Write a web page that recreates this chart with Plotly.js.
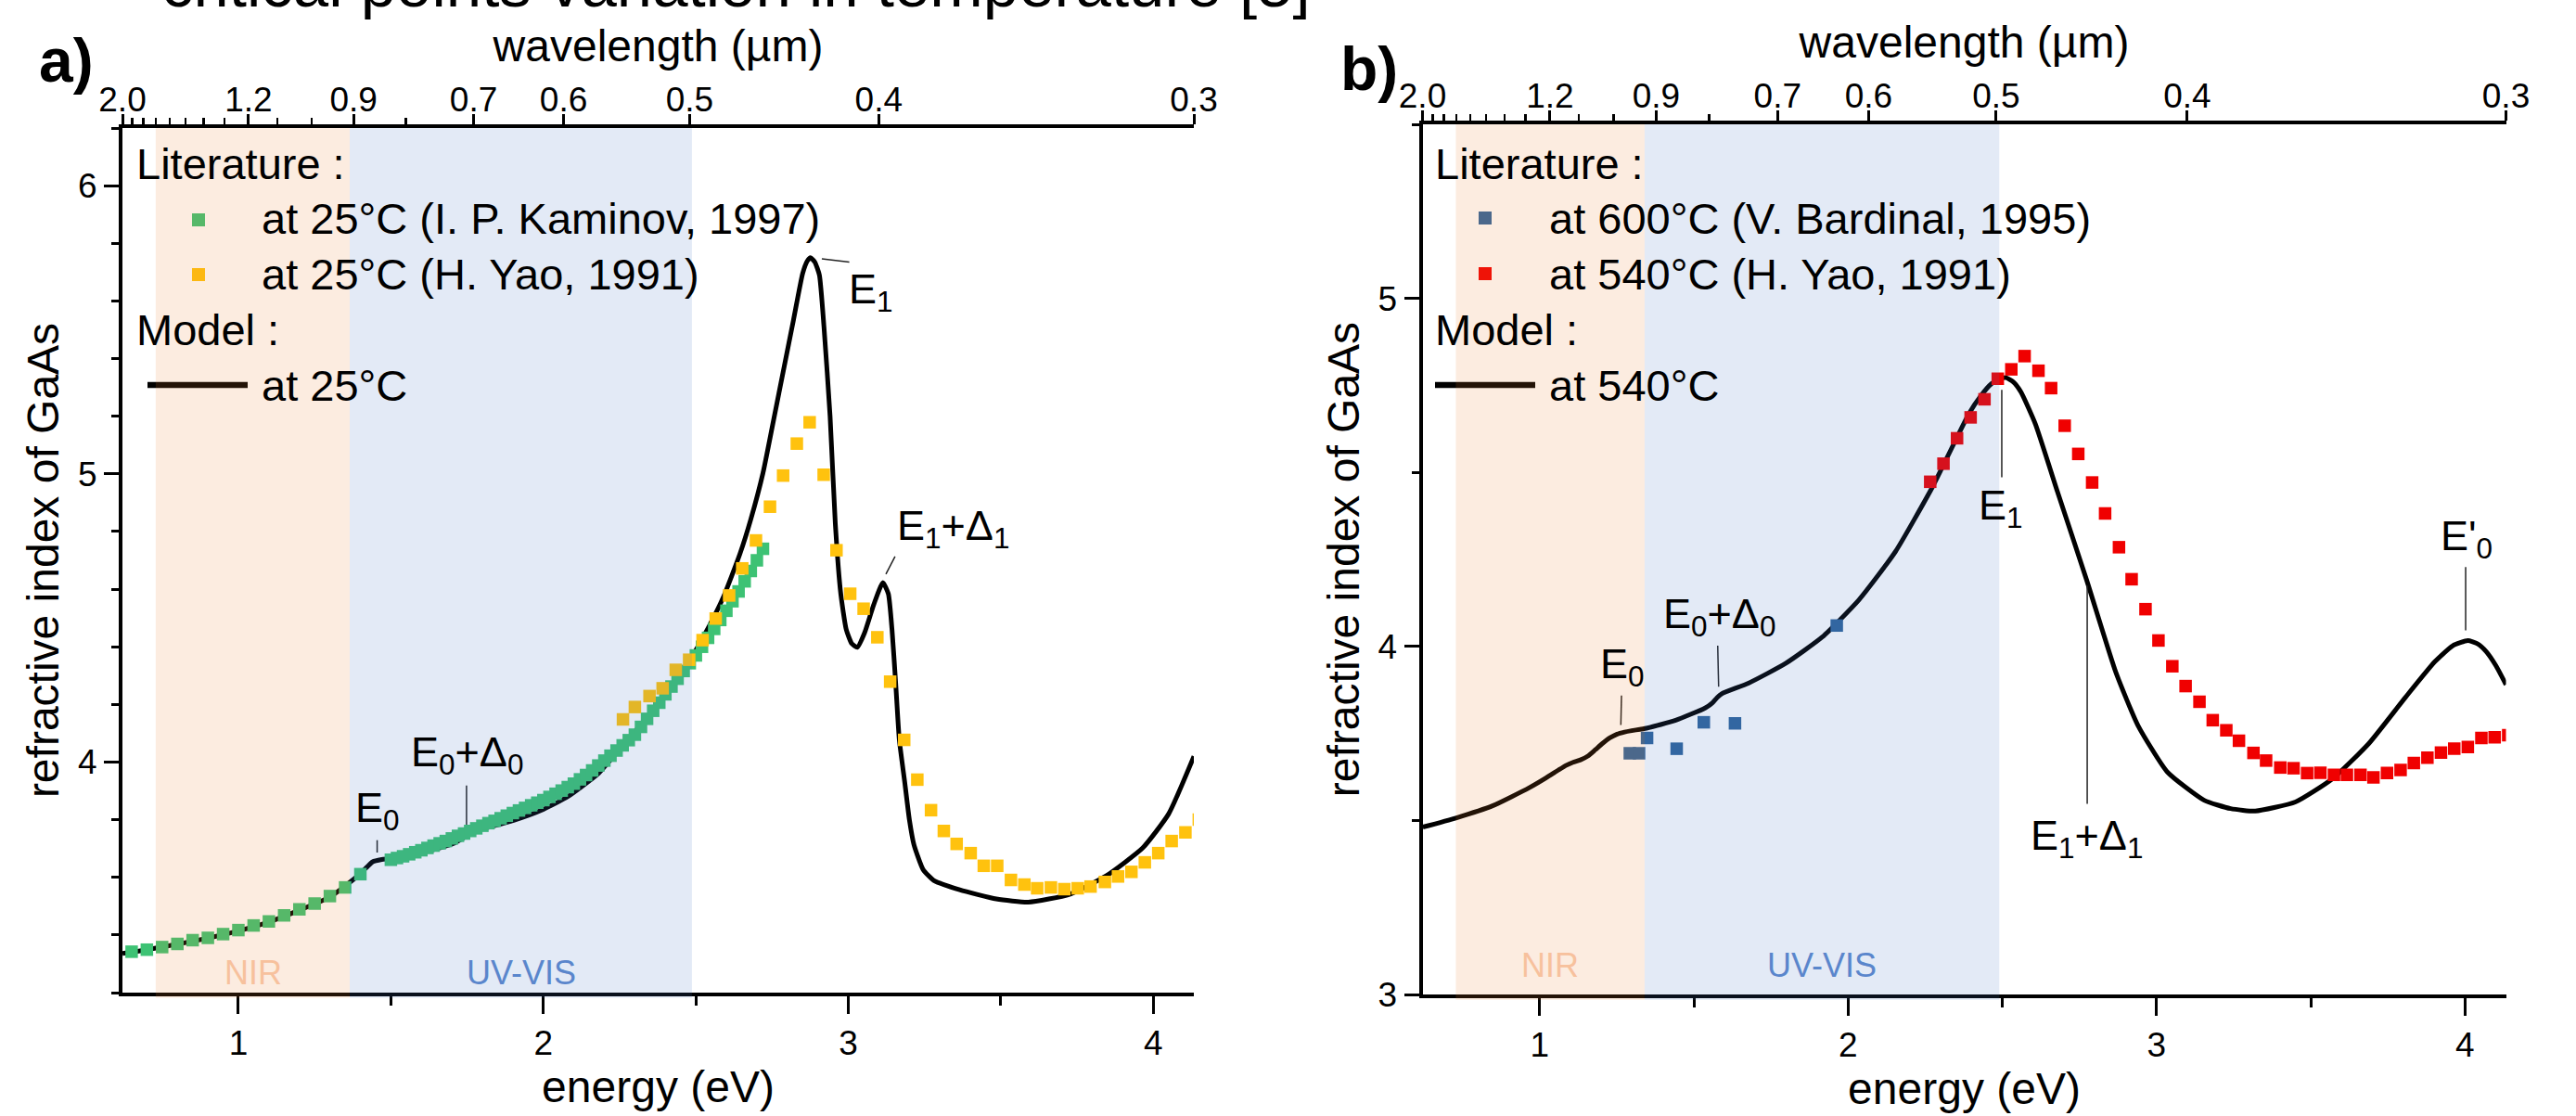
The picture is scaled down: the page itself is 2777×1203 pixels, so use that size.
<!DOCTYPE html>
<html>
<head>
<meta charset="utf-8">
<script src="https://cdn.plot.ly/plotly-3.0.1.min.js"></script>
<style>html,body{margin:0;padding:0;background:#fff;}#chart{width:2777px;height:1203px;}</style>
</head>
<body>
<div id="chart"></div>
<script>
// ---------------- data ----------------
// panel a) 25 °C
const kaminovE = [0.65,0.70,0.75,0.80,0.85,0.90,0.95,1.00,1.05,1.10,1.15,1.20,1.25,1.30,1.35,1.40,
  1.50,1.52,1.54,1.56,1.58,1.60,1.62,1.64,1.66,1.68,1.70,1.72,1.74,1.76,1.78,1.80,1.82,1.84,1.86,1.88,
  1.90,1.92,1.94,1.96,1.98,2.00,2.02,2.04,2.06,2.08,2.10,2.12,2.14,2.16,2.18,2.20,2.22,2.24,2.26,2.28,
  2.30,2.32,2.34,2.36,2.38,2.40,2.42,2.44,2.46,2.48,2.50,2.52,2.54,2.56,2.58,2.60,2.62,2.64,2.66,2.68,2.70,2.72];
const kaminovN = [3.342,3.349,3.358,3.369,3.382,3.390,3.403,3.417,3.433,3.447,3.468,3.489,3.509,3.535,3.565,3.611,
  3.661,3.667,3.673,3.680,3.687,3.694,3.702,3.710,3.718,3.726,3.735,3.744,3.752,3.761,3.770,3.779,3.788,3.796,3.805,3.814,
  3.823,3.832,3.841,3.850,3.859,3.868,3.879,3.890,3.901,3.913,3.925,3.940,3.955,3.971,3.988,4.005,4.022,4.040,4.058,4.076,
  4.095,4.122,4.150,4.178,4.206,4.235,4.262,4.289,4.316,4.343,4.370,4.400,4.431,4.462,4.493,4.525,4.558,4.592,4.627,4.663,4.700,4.740];

const yao25E = [2.261,2.300,2.348,2.391,2.434,2.478,2.522,2.565,2.609,2.652,2.697,2.743,2.786,2.831,2.873,2.919,2.961,
  3.006,3.050,3.095,3.137,3.183,3.226,3.271,3.313,3.355,3.401,3.444,3.488,3.533,3.577,3.619,3.664,3.708,3.752,3.794,
  3.841,3.884,3.928,3.972,4.016,4.060,4.105,4.149];
const yao25N = [4.148,4.191,4.229,4.256,4.320,4.355,4.423,4.498,4.578,4.672,4.769,4.886,4.994,5.105,5.179,4.997,4.735,
  4.584,4.532,4.433,4.279,4.077,3.939,3.833,3.761,3.716,3.684,3.640,3.640,3.591,3.575,3.562,3.565,3.559,3.562,3.568,
  3.584,3.603,3.619,3.652,3.684,3.726,3.756,3.800];

const model25E = [0.62,0.70,0.80,0.90,1.00,1.10,1.20,1.30,1.38,1.42,1.44,1.47,1.50,1.60,1.70,1.74,1.765,1.80,1.90,2.00,
  2.08,2.18,2.25,2.32,2.41,2.47,2.53,2.59,2.645,2.68,2.72,2.755,2.79,2.82,2.85,2.865,2.876,2.89,2.905,2.92,2.94,2.957,
  2.975,2.993,3.011,3.029,3.053,3.083,3.113,3.131,3.143,3.155,3.167,3.185,3.20,3.215,3.245,3.28,3.365,3.485,3.59,
  3.725,3.845,3.965,4.05,4.133];
const model25N = [3.336,3.349,3.368,3.389,3.414,3.445,3.486,3.532,3.595,3.634,3.654,3.662,3.665,3.685,3.715,3.738,3.756,3.768,3.797,3.836,
  3.880,3.960,4.045,4.130,4.245,4.336,4.445,4.572,4.724,4.842,5.003,5.188,5.374,5.534,5.695,5.738,5.750,5.735,5.690,5.510,5.200,4.830,
  4.584,4.460,4.411,4.398,4.448,4.546,4.623,4.584,4.460,4.275,4.077,3.928,3.800,3.713,3.627,3.589,3.557,3.525,3.514,
  3.541,3.605,3.702,3.820,4.020];

// panel b) high temperature
const bardinalE = [1.292,1.322,1.348,1.444,1.532,1.633,1.963];
const bardinalN = [3.693,3.693,3.737,3.706,3.782,3.779,4.060];

const yao540E = [2.266,2.309,2.353,2.397,2.442,2.485,2.529,2.572,2.617,2.658,2.702,2.746,2.791,2.833,2.878,2.919,2.964,
  3.006,3.051,3.094,3.139,3.182,3.226,3.267,3.314,3.355,3.401,3.444,3.488,3.531,3.575,3.617,3.661,3.703,3.747,3.791,
  3.834,3.878,3.922,3.965,4.009,4.053,4.096,4.140];
const yao540N = [4.473,4.525,4.598,4.658,4.710,4.769,4.796,4.834,4.792,4.742,4.634,4.553,4.471,4.382,4.285,4.193,4.107,
  4.017,3.943,3.886,3.841,3.788,3.759,3.729,3.694,3.672,3.652,3.650,3.636,3.637,3.631,3.631,3.631,3.624,3.636,3.645,
  3.665,3.680,3.695,3.706,3.711,3.737,3.739,3.745];

const model540E = [0.621,0.728,0.847,0.966,1.02,1.061,1.085,1.108,1.132,1.156,1.18,1.203,1.227,1.251,1.275,1.298,1.346,
  1.441,1.536,1.56,1.575,1.59,1.678,1.797,1.916,2.035,2.153,2.272,2.322,2.391,2.43,2.465,2.49,2.512,2.535,2.56,2.607,
  2.678,2.773,2.868,2.94,3.035,3.154,3.24,3.32,3.45,3.569,3.688,3.807,3.902,3.96,4.009,4.04,4.068,4.10,4.133];
const model540N = [3.481,3.507,3.542,3.594,3.622,3.645,3.658,3.667,3.674,3.685,3.703,3.721,3.737,3.748,3.754,3.758,3.765,
  3.788,3.823,3.838,3.853,3.864,3.895,3.951,4.027,4.134,4.272,4.456,4.545,4.668,4.720,4.755,4.768,4.772,4.760,4.731,4.639,
  4.446,4.191,3.925,3.772,3.639,3.558,3.534,3.527,3.553,3.619,3.721,3.854,3.956,4.002,4.017,4.008,3.986,3.945,3.890];

// wavelength axis ticks (µm)
const wlMajor = [2.0,1.2,0.9,0.7,0.6,0.5,0.4,0.3];
const wlMajorText = ['2.0','1.2','0.9','0.7','0.6','0.5','0.4','0.3'];
const wlMinor = [1.9,1.8,1.7,1.6,1.5,1.4,1.3,1.1,1.0,0.8];

// legend / label texts
const legendA = ['Literature :','at 25°C (I. P. Kaminov, 1997)','at 25°C (H. Yao, 1991)','Model :','at 25°C'];
const legendB = ['Literature :','at 600°C (V. Bardinal, 1995)','at 540°C (H. Yao, 1991)','Model :','at 540°C'];

// ---------------- helpers ----------------
const HC = 1.2398;                 // eV·µm
const toE = l => HC / l;
const W = 2777, H = 1203;
const px = x => x / W;
const py = y => 1 - y / H;
const FONT = 'Liberation Sans, Arial, Helvetica, sans-serif';
const XR = [toE(2.0), toE(0.3)];

const cGreen = '#3DC274', cYellow = '#FFC20E', cBlue = '#30649C', cRed = '#F00000';

function bottomAxis(domain, anchor) {
  return {domain: domain, anchor: anchor, range: XR, showline: true, linewidth: 4, linecolor: '#000',
    ticks: 'outside', ticklen: 19, tickwidth: 3, tickcolor: '#000', tick0: 0, dtick: 1,
    tickfont: {size: 37, color: '#000'}, showgrid: false, zeroline: false,
    minor: {ticks: 'outside', ticklen: 10, tickwidth: 3, tickcolor: '#000', tick0: 0, dtick: 0.5, showgrid: false},
    title: {text: 'energy (eV)', font: {size: 48, color: '#000'}, standoff: 6}, automargin: false};
}
function topAxis(over, anchor) {
  return {overlaying: over, side: 'top', anchor: anchor, range: XR, showline: true, linewidth: 4, linecolor: '#000',
    tickmode: 'array', tickvals: wlMajor.map(toE), ticktext: wlMajorText,
    ticks: 'outside', ticklen: 11, tickwidth: 3, tickcolor: '#000', tickfont: {size: 37, color: '#000'},
    ticklabelstandoff: -12,
    showgrid: false, zeroline: false,
    minor: {tickmode: 'array', tickvals: wlMinor.map(toE), ticks: 'outside', ticklen: 7, tickwidth: 2.5, tickcolor: '#000', showgrid: false},
    title: {text: 'wavelength (µm)', font: {size: 48, color: '#000'}, standoff: 6}, automargin: false};
}
function leftAxis(domain, anchor, range, minorStep) {
  return {domain: domain, anchor: anchor, range: range, showline: true, linewidth: 4, linecolor: '#000',
    ticks: 'outside', ticklen: 16, tickwidth: 3, tickcolor: '#000', tick0: 0, dtick: 1,
    tickfont: {size: 37, color: '#000'}, showgrid: false, zeroline: false,
    minor: {ticks: 'outside', ticklen: 8, tickwidth: 3, tickcolor: '#000', tick0: 0, dtick: minorStep, showgrid: false},
    title: {text: 'refractive index of GaAs', font: {size: 48, color: '#000'}, standoff: 6}, automargin: false};
}

// ---------------- traces ----------------
const sq = (c) => ({symbol: 'square', size: 13.5, color: c, line: {width: 0}});
const traces = [
  {x: model25E, y: model25N, xaxis: 'x', yaxis: 'y', mode: 'lines', name: 'Model at 25°C',
    line: {color: '#000', width: 5, shape: 'spline', smoothing: 0.5}},
  {x: kaminovE, y: kaminovN, xaxis: 'x', yaxis: 'y', mode: 'markers', name: legendA[1], marker: sq(cGreen)},
  {x: yao25E, y: yao25N, xaxis: 'x', yaxis: 'y', mode: 'markers', name: legendA[2], marker: sq(cYellow)},
  {x: model540E, y: model540N, xaxis: 'x2', yaxis: 'y2', mode: 'lines', name: 'Model at 540°C',
    line: {color: '#000', width: 5, shape: 'spline', smoothing: 0.5}},
  {x: bardinalE, y: bardinalN, xaxis: 'x2', yaxis: 'y2', mode: 'markers', name: legendB[1], marker: sq(cBlue)},
  {x: yao540E, y: yao540N, xaxis: 'x2', yaxis: 'y2', mode: 'markers', name: legendB[2], marker: sq(cRed)},
  // empty traces that attach the wavelength (top) axes to their subplots
  {x: XR, y: [null, null], xaxis: 'x3', yaxis: 'y', mode: 'lines', hoverinfo: 'skip', showlegend: false},
  {x: XR, y: [null, null], xaxis: 'x4', yaxis: 'y2', mode: 'lines', hoverinfo: 'skip', showlegend: false}
];

// ---------------- annotations ----------------
const ann = [];
function txt(text, x, y, size, opts) {
  ann.push(Object.assign({text: text, x: x, y: y, xref: 'paper', yref: 'paper', showarrow: false,
    xanchor: 'left', yanchor: 'middle', font: {family: FONT, size: size, color: '#000'}}, opts || {}));
}
// cut-off heading at the very top (it is cropped in the original figure as well)
txt('critical points variation in temperature [5]', px(172), py(24), 69, {yanchor: 'bottom'});
// panel letters
txt('<b>a)</b>', px(40), py(65), 66);
txt('<b>b)</b>', px(1443), py(74), 66);
// legends
const legY = [176, 235, 295, 355, 415];
[0, 3].forEach(i => { txt(legendA[i], px(145), py(legY[i]), 47); txt(legendB[i], px(1545), py(legY[i]), 47); });
[1, 2, 4].forEach(i => { txt(legendA[i], px(280), py(legY[i]), 47); txt(legendB[i], px(1668), py(legY[i]), 47); });

// region labels and critical points (data coordinates)
function dtxt(text, x, y, xr, yr, size, color) {
  ann.push({text: text, x: x, y: y, xref: xr, yref: yr, showarrow: false, xanchor: 'center', yanchor: 'middle',
    font: {family: FONT, size: size, color: color || '#000'}});
}
dtxt('NIR', 1.048, 3.268, 'x', 'y', 36, '#F7C19D');
dtxt('UV-VIS', 1.927, 3.268, 'x', 'y', 36, '#5A86CC');
dtxt('NIR', 1.033, 3.085, 'x2', 'y2', 36, '#F7C19D');
dtxt('UV-VIS', 1.916, 3.085, 'x2', 'y2', 36, '#5A86CC');

dtxt('E<sub>0</sub>', 1.455, 3.831, 'x', 'y', 45);
dtxt('E<sub>0</sub>+Δ<sub>0</sub>', 1.750, 4.025, 'x', 'y', 45);
dtxt('E<sub>1</sub>', 3.073, 5.633, 'x', 'y', 45);
dtxt('E<sub>1</sub>+Δ<sub>1</sub>', 3.344, 4.810, 'x', 'y', 45);

dtxt('E<sub>0</sub>', 1.269, 3.941, 'x2', 'y2', 45);
dtxt('E<sub>0</sub>+Δ<sub>0</sub>', 1.581, 4.086, 'x2', 'y2', 45);
dtxt('E<sub>1</sub>', 2.494, 4.397, 'x2', 'y2', 45);
dtxt('E<sub>1</sub>+Δ<sub>1</sub>', 2.772, 3.448, 'x2', 'y2', 45);
dtxt("E'<sub>0</sub>", 4.006, 4.310, 'x2', 'y2', 45);

// ---------------- shapes ----------------
const shapes = [];
function lead(x0, y0, x1, y1, xr, yr) {
  shapes.push({type: 'line', xref: xr, yref: yr, x0: x0, y0: y0, x1: x1, y1: y1, line: {color: '#222', width: 1.5}});
}
lead(1.455, 3.729, 1.455, 3.686, 'x', 'y');
lead(1.748, 3.919, 1.748, 3.783, 'x', 'y');
lead(2.913, 5.746, 3.003, 5.735, 'x', 'y');
lead(3.153, 4.713, 3.123, 4.652, 'x', 'y');
lead(1.265, 3.859, 1.263, 3.774, 'x2', 'y2');
lead(1.577, 4.002, 1.580, 3.884, 'x2', 'y2');
lead(2.498, 4.737, 2.498, 4.486, 'x2', 'y2');
lead(2.775, 4.175, 2.775, 3.548, 'x2', 'y2');
lead(4.002, 4.228, 4.002, 4.046, 'x2', 'y2');

// legend symbols
function legSq(cx, cy, c) {
  shapes.push({type: 'rect', xref: 'paper', yref: 'paper', x0: px(cx - 7), x1: px(cx + 7), y0: py(cy + 7), y1: py(cy - 7),
    fillcolor: c, line: {width: 0}, layer: 'above'});
}
function legLine(xa, xb, cy) {
  shapes.push({type: 'line', xref: 'paper', yref: 'paper', x0: px(xa), x1: px(xb), y0: py(cy), y1: py(cy),
    line: {color: '#000', width: 6.5}, layer: 'above'});
}
legSq(214, 237, cGreen); legSq(214, 296, cYellow); legLine(159, 267, 415);
legSq(1601, 235, cBlue); legSq(1601, 295, cRed); legLine(1547, 1655, 415);

// translucent spectral regions drawn over everything (as in the original)
function band(x0, x1, xr, yr, c) {
  shapes.push({type: 'rect', xref: xr, yref: yr, x0: x0, x1: x1, y0: -0.006, y1: 1,
    fillcolor: c, opacity: 0.15, line: {width: 0}, layer: 'above'});
}
band(0.729, 1.365, 'x', 'y domain', 'rgb(237,125,49)');
band(1.365, 2.487, 'x', 'y domain', 'rgb(68,114,196)');
band(0.728, 1.340, 'x2', 'y2 domain', 'rgb(237,125,49)');
band(1.340, 2.490, 'x2', 'y2 domain', 'rgb(68,114,196)');

// ---------------- layout ----------------
const layout = {
  width: W, height: H, margin: {l: 0, r: 0, t: 0, b: 0},
  paper_bgcolor: '#ffffff', plot_bgcolor: 'rgba(0,0,0,0)',
  font: {family: FONT, color: '#000', size: 37},
  showlegend: false,
  xaxis: bottomAxis([132 / W, 1287 / W], 'y'),
  yaxis: leftAxis([(H - 1070) / H, (H - 138) / H], 'x', [3.2, 6.2], 0.2),
  xaxis3: topAxis('x', 'y'),
  xaxis2: bottomAxis([1533.5 / W, 2701.5 / W], 'y2'),
  yaxis2: leftAxis([(H - 1072) / H, (H - 134) / H], 'x2', [3, 5.5], 0.5),
  xaxis4: topAxis('x2', 'y2'),
  annotations: ann,
  shapes: shapes
};

Plotly.newPlot('chart', traces, layout, {staticPlot: true, displayModeBar: false});
</script>
</body>
</html>
